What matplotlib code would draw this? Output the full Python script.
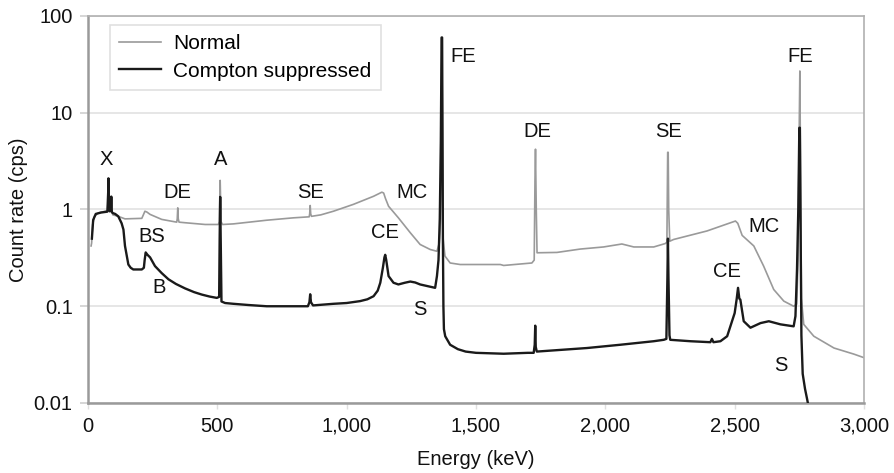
import matplotlib
matplotlib.use("Agg")
import matplotlib.pyplot as plt
from matplotlib.ticker import FixedLocator, FixedFormatter

plt.rcParams['font.family'] = ['Liberation Sans', 'DejaVu Sans']

# ---- data ----
normal_E = [12, 14, 18, 25, 40, 60, 75, 78, 79, 80, 84, 88, 90, 92, 96, 110, 117, 143, 208, 214,
            220, 228, 240, 285, 343, 345, 347, 349, 352, 375, 453, 504, 508, 510, 511, 512, 514,
            520, 562, 691, 794, 855, 857, 859, 861, 864, 900, 949, 1026, 1104, 1136, 1143, 1150,
            1162, 1200, 1246, 1284, 1323, 1349, 1358, 1363, 1366, 1368, 1370, 1373, 1380, 1400,
            1439, 1594, 1607, 1716, 1725, 1728, 1730, 1733, 1736, 1813, 1903, 1993, 2064, 2110,
            2187, 2232, 2238, 2241, 2243, 2245, 2249, 2264, 2393, 2503, 2512, 2529, 2574, 2612,
            2651, 2690, 2728, 2740, 2745, 2749, 2752, 2755, 2758, 2767, 2806, 2884, 2961, 3000]
normal_cps = [0.42, 0.45, 0.7, 0.85, 0.92, 0.95, 0.97, 1.3, 1.5, 1.2, 0.95, 0.95, 1.2, 0.95, 0.88,
              0.86, 0.85, 0.80, 0.81, 0.88, 0.96, 0.94, 0.89, 0.79, 0.74, 0.8, 1.04, 0.8, 0.74,
              0.73, 0.70, 0.70, 0.75, 1.5, 2.0, 1.5, 0.75, 0.70, 0.71, 0.775, 0.82, 0.84, 0.9,
              1.1, 0.9, 0.85, 0.88, 0.96, 1.13, 1.37, 1.51, 1.48, 1.3, 1.08, 0.82, 0.575, 0.435,
              0.386, 0.37, 0.45, 0.8, 10, 55, 10, 0.5, 0.33, 0.28, 0.27, 0.27, 0.264, 0.28, 0.3,
              2.0, 4.2, 1.0, 0.357, 0.36, 0.39, 0.41, 0.44, 0.41, 0.41, 0.445, 0.46, 3.9, 3.9,
              1.0, 0.47, 0.49, 0.60, 0.76, 0.72, 0.54, 0.42, 0.26, 0.149, 0.113, 0.1, 0.105, 0.3,
              5, 27, 2, 0.12, 0.065, 0.049, 0.037, 0.032, 0.0294]

supp_E = [15, 20, 30, 50, 75, 78, 79, 80, 84, 88, 90, 92, 95, 105, 117, 130, 137, 143, 150, 156,
          165, 175, 195, 208, 216, 219, 223, 230, 240, 259, 285, 311, 340, 375, 410, 440, 470, 498,
          507, 509, 511, 513, 516, 530, 562, 620, 691, 794, 850, 856, 859, 862, 870, 949, 1000,
          1052, 1080, 1104, 1120, 1130, 1140, 1146, 1149, 1153, 1162, 1181, 1200, 1225, 1246,
          1265, 1284, 1310, 1342, 1349, 1355, 1360, 1364, 1367, 1369, 1372, 1374, 1376, 1381,
          1400, 1430, 1460, 1500, 1607, 1700, 1723, 1727, 1729, 1731, 1735, 1800, 1929, 2058,
          2187, 2226, 2236, 2240, 2242, 2244, 2248, 2251, 2329, 2406, 2412, 2418, 2445, 2471,
          2490, 2500, 2508, 2513, 2518, 2522, 2535, 2561, 2600, 2632, 2677, 2728, 2735, 2741,
          2746, 2750, 2752, 2755, 2758, 2763, 2772, 2780, 2790]
supp_cps = [0.5, 0.78, 0.9, 0.93, 0.95, 1.5, 2.1, 1.4, 0.96, 0.98, 1.36, 0.95, 0.92, 0.9, 0.85,
            0.72, 0.62, 0.42, 0.33, 0.27, 0.25, 0.24, 0.24, 0.24, 0.25, 0.3, 0.36, 0.34, 0.32, 0.26,
            0.22, 0.19, 0.17, 0.153, 0.14, 0.132, 0.126, 0.122, 0.125, 0.5, 1.35, 0.5, 0.112, 0.108,
            0.106, 0.103, 0.1, 0.1, 0.1, 0.11, 0.133, 0.11, 0.102, 0.106, 0.108, 0.113, 0.118,
            0.127, 0.145, 0.175, 0.25, 0.32, 0.34, 0.3, 0.205, 0.175, 0.168, 0.175, 0.18, 0.176,
            0.168, 0.162, 0.155, 0.205, 0.3, 0.8, 5, 60, 60, 0.5, 0.1, 0.058, 0.049, 0.040, 0.036,
            0.034, 0.033, 0.0323, 0.033, 0.033, 0.04, 0.063, 0.038, 0.034, 0.035, 0.037, 0.040,
            0.0435, 0.045, 0.046, 0.2, 0.5, 0.2, 0.05, 0.045, 0.0435, 0.0425, 0.046, 0.0425,
            0.0435, 0.049, 0.07, 0.085, 0.12, 0.155, 0.12, 0.117, 0.070, 0.060, 0.067, 0.070,
            0.065, 0.062, 0.079, 0.24, 1.0, 7, 7, 0.5, 0.05, 0.02, 0.014, 0.011, 0.008]

x_ticks = [0, 500, 1000, 1500, 2000, 2500, 3000]
x_tick_labels = ["0", "500", "1,000", "1,500", "2,000", "2,500", "3,000"]
y_ticks = [0.01, 0.1, 1, 10, 100]
y_tick_labels = ["0.01", "0.1", "1", "10", "100"]

labels = ["X", "A", "DE", "SE", "MC", "BS", "B", "CE", "S", "FE", "DE", "SE", "FE", "MC", "CE", "S"]
label_E = [70, 511, 344, 859, 1253, 246, 275, 1149, 1284, 1451, 1736, 2243, 2752, 2615, 2471, 2677]
label_cps = [3.29, 3.29, 1.5, 1.5, 1.5, 0.53, 0.156, 0.58, 0.0926, 38.4, 6.45, 6.45, 38.4, 0.67,
             0.23, 0.0246]

# ---- figure ----
fig = plt.figure(figsize=(8.95, 4.73), dpi=100)
ax = fig.add_axes([88 / 895, 1 - 403 / 473, 776 / 895, 387 / 473])

ax.set_yscale('log')
ax.set_xlim(0, 3000)
ax.set_ylim(0.01, 100)

ax.yaxis.grid(True, color='#e2e2e2', linewidth=1.2)
ax.set_axisbelow(True)

ax.plot(normal_E, normal_cps, color='#9a9a9a', linewidth=1.2, label='Normal', zorder=2)
ax.plot(supp_E, supp_cps, color='#1a1a1a', linewidth=1.7, label='Compton suppressed', zorder=3)

for t, e, c in zip(labels, label_E, label_cps):
    ax.text(e, c, t, ha='center', va='center', fontsize=14.5, color='#111111', zorder=4)

ax.xaxis.set_major_locator(FixedLocator(x_ticks))
ax.xaxis.set_major_formatter(FixedFormatter(x_tick_labels))
ax.yaxis.set_major_locator(FixedLocator(y_ticks))
ax.yaxis.set_major_formatter(FixedFormatter(y_tick_labels))
ax.yaxis.set_minor_locator(FixedLocator([]))
ax.tick_params(axis='both', which='major', labelsize=14.5, colors='#111111')
ax.tick_params(axis='y', length=6, width=1.2, color='#d0d0d0', pad=5)
ax.tick_params(axis='x', length=4, width=1.0, color='#e0e0e0', pad=6)

for side in ['left', 'bottom']:
    ax.spines[side].set_color('#9a9a9a')
    ax.spines[side].set_linewidth(1.8)
for side in ['top', 'right']:
    ax.spines[side].set_color('#b0b0b0')
    ax.spines[side].set_linewidth(1.2)

ax.set_xlabel('Energy (keV)', fontsize=14.5, color='#111111', labelpad=10)
ax.set_ylabel('Count rate (cps)', fontsize=14.5, color='#111111', labelpad=4)

leg = ax.legend(loc='upper left', bbox_to_anchor=(0.028, 0.977), borderaxespad=0,
                fontsize=15, frameon=True, fancybox=False, edgecolor='#d8d8d8',
                handlelength=2.0, handletextpad=0.6, labelspacing=0.4, borderpad=0.45)
leg.get_frame().set_linewidth(1.2)

fig.savefig('out.png', dpi=100)
